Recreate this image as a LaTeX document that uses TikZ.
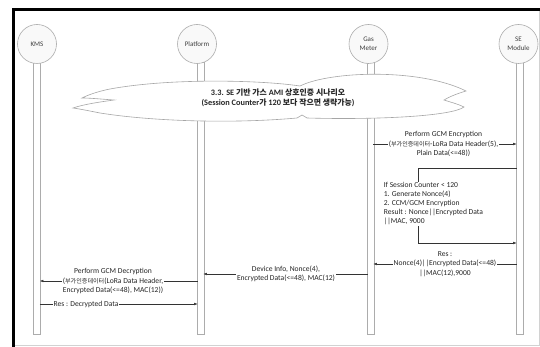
\documentclass[tikz,border=0pt]{standalone}
\usepackage{fontspec}
\setmainfont{Carlito}
\newfontfamily\kr[Scale=0.8]{Noto Sans CJK KR}
\newfontfamily\krc[Scale=0.95]{Noto Sans CJK KR}
\usetikzlibrary{arrows.meta}
\begin{document}
\begin{tikzpicture}[x=1pt,y=-1pt,
  actor/.style={circle,draw=gray!65,fill=gray!5,line width=0.6pt,minimum size=39pt,inner sep=0pt,
    align=center,text=black!75,font=\fontsize{7}{9}\selectfont},
  lifebar/.style={draw=gray!65,fill=white,line width=0.6pt,minimum width=6.6pt,inner sep=0pt},
  msg/.style={draw=black!80,line width=0.5pt,-{Latex[length=3.5pt,width=2.6pt]}},
  lbl/.style={fill=white,inner sep=0.6pt,align=center,text=black!85,
    font=\fontsize{7.6}{9.5}\selectfont},
  cloudline/.style={draw=gray!70,fill=white,line width=0.6pt}]
\useasboundingbox (0,0) rectangle (540,347);
\fill[white] (0,0) rectangle (540,347);
% frame
\draw[line width=3pt,black] (13,347) -- (13,9.5) -- (540,9.5);
\draw[gray!35,line width=0.8pt] (539,11) -- (539,345) -- (14.6,345);
% lifelines
\node[lifebar,minimum height=272pt] (kmsL) at (36.5,198) {};
\node[lifebar,minimum height=272pt] (plL) at (200.5,198) {};
\node[lifebar,minimum height=272pt] (gmL) at (370.5,198) {};
\node[lifebar,minimum height=272pt] (seL) at (520,198) {};
% actors
\node[actor] (kms) at (37,44) {KMS};
\node[actor] (pl) at (197,44) {Platform};
\node[actor] (gm) at (368.5,44) {Gas\\Meter};
\node[actor] (se) at (518.5,44) {SE\\Module};
% cloud
\path[cloudline] (110,89)
  .. controls (170,78) and (260,80) .. (300,86)
  .. controls (330,71) and (420,68) .. (466,91)
  .. controls (456,94) and (449,97) .. (444,100)
  .. controls (450,102) and (458,104) .. (464,107)
  .. controls (452,116) and (380,120) .. (307,118)
  -- (302,115) -- (297,118)
  .. controls (230,124) and (150,121) .. (100,113)
  .. controls (90,111) and (80,109) .. (73,108)
  .. controls (85,104) and (100,102) .. (114,100)
  .. controls (100,99) and (90,98) .. (82,98)
  .. controls (90,94) and (100,91) .. (110,89) -- cycle;
\node[align=center,text=black!85,font=\fontsize{8.3}{10}\selectfont\bfseries] (title) at (278,98)
  {3.3. SE {\krc 기반 가스} AMI {\krc 상호인증 시나리오}\\(Session Counter{\krc 가} 120 {\krc 보다 작으면 생략가능})};
% endpoints
\coordinate (g1) at (373.3,144);
\coordinate (s1) at (516.7,144);
\coordinate (s2) at (516.7,168);
\coordinate (c1) at (418,168);
\coordinate (c2) at (418,243);
\coordinate (s3) at (516.7,243);
\coordinate (s4) at (516.7,264);
\coordinate (g4) at (373.3,264);
\coordinate (g5) at (367.7,274);
\coordinate (p5) at (203.3,274);
\coordinate (p6) at (197.7,281);
\coordinate (k6) at (39.8,281);
\coordinate (k7) at (39.8,304);
\coordinate (p7) at (197.7,304);
% messages
\draw[msg] (g1) -- (s1);
\node[lbl] (m1) at (443.5,144) {Perform GCM Encryption\\({\kr 부가인증데이터}-LoRa Data Header(5),\\Plain Data(<=48))};
\draw[msg] (s2) -- (c1) -- (c2) -- (s3);
\node[lbl,anchor=north west,align=left,font=\fontsize{7.6}{9.1}\selectfont] (m2) at (383,181.5)
  {If Session Counter < 120\\1. Generate Nonce(4)\\2. CCM/GCM Encryption\\Result : Nonce||Encrypted Data\\||MAC, 9000};
\draw[msg] (s4) -- (g4);
\node[lbl] (m3) at (445,264) {Res :\\Nonce(4)||Encrypted Data(<=48)\\||MAC(12),9000};
\draw[msg] (g5) -- (p5);
\node[lbl] (m4) at (286,274) {Device Info, Nonce(4),\\Encrypted Data(<=48), MAC(12)};
\draw[msg] (p6) -- (k6);
\node[lbl] (m5) at (113,281) {Perform GCM Decryption\\({\kr 부가인증데이터}(LoRa Data Header,\\Encrypted Data(<=48), MAC(12))};
\draw[msg] (k7) -- (p7);
\node[lbl] (m6) at (86,304) {Res : Decrypted Data};
\end{tikzpicture}
\end{document}
